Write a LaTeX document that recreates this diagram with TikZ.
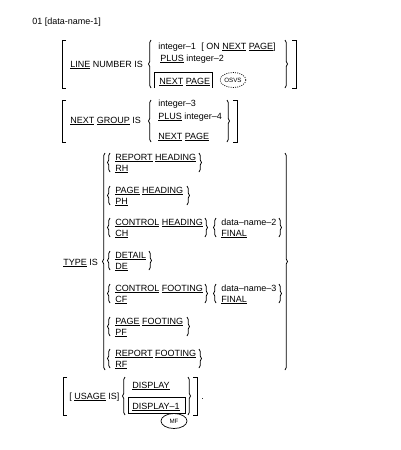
\documentclass[tikz,border=0pt]{standalone}
\usepackage{fontspec}
\setmainfont{Liberation Sans}
\usetikzlibrary{positioning, shapes.geometric, decorations.pathreplacing}
\newcommand{\kw}[1]{\underline{#1}}

\begin{document}
\begin{tikzpicture}[x=1pt, y=-1pt, line width=0.7pt,
		every node/.style={anchor=base west, inner sep=0pt, font=\fontsize{9}{11}\selectfont},
		brc/.style={decorate, decoration={brace, amplitude=2.5pt}},
		tag/.style={ellipse, draw, anchor=center, inner sep=0.5pt, minimum width=22pt, minimum height=15pt, font=\fontsize{6.2}{7}\selectfont}]
			\useasboundingbox (0,0) rectangle (400,450);
			%Level
			\node (lvl) at (32,24) {01 [data-name-1]};
			%Line number
			\draw (66,40) -| (62,88) -- (66,88);
			\node (line) at (70,67) {\kw{LINE} NUMBER IS};
			\draw[brc] (151,88) -- (151,40);
			\node (int1) at (158,49) {integer--1};
			\node (onpage) at (201,49) {[ ON \kw{NEXT} \kw{PAGE}]};
			\node (plus2) at (160,61) {\kw{PLUS} integer--2};
			\draw (154,88) |- (212,72) -- (212,88);
			\node (nxtpg1) at (159,84) {\kw{NEXT} \kw{PAGE}};
			\node[tag, dash pattern=on 1pt off 1.2pt] (osvs) at (233,80) {OSVS};
			\draw[brc] (285,40) -- (285,88);
			\draw (292,40) -| (296,88) -- (292,88);
			%Next group
			\draw (66,100) -| (62,142) -- (66,142);
			\node (group) at (70,123) {\kw{NEXT} \kw{GROUP} IS};
			\draw[brc] (151,142) -- (151,100);
			\node (int3) at (158,106) {integer--3};
			\node (plus4) at (158,119) {\kw{PLUS} integer--4};
			\node (nxtpg2) at (158,139) {\kw{NEXT} \kw{PAGE}};
			\draw[brc] (227,100) -- (227,142);
			\draw (233,100) -| (237,142) -- (233,142);
			%Type
			\node (type) at (63,265) {\kw{TYPE} IS};
			\draw[brc] (105,370) -- (105,153);
			\draw[brc] (285,153) -- (285,370);
			%Report heading
			\draw[brc] (110,172) -- (110,153);
			\node (rh) at (115,160) {\kw{REPORT} \kw{HEADING}};
			\node (rhs) at (115,171) {\kw{RH}};
			\draw[brc] (199,153) -- (199,172);
			%Page heading
			\draw[brc] (110,205) -- (110,186);
			\node (ph) at (115,193) {\kw{PAGE} \kw{HEADING}};
			\node (phs) at (115,204) {\kw{PH}};
			\draw[brc] (187,186) -- (187,205);
			%Control heading
			\draw[brc] (110,237) -- (110,218);
			\node (ch) at (115,225) {\kw{CONTROL} \kw{HEADING}};
			\node (chs) at (115,236) {\kw{CH}};
			\draw[brc] (205,218) -- (205,237);
			\draw[brc] (216,237) -- (216,218);
			\node (dn2) at (221,225) {data--name--2};
			\node (fin2) at (221,236) {\kw{FINAL}};
			\draw[brc] (279,218) -- (279,237);
			%Detail
			\draw[brc] (110,270) -- (110,251);
			\node (de) at (115,258) {\kw{DETAIL}};
			\node (des) at (115,269) {\kw{DE}};
			\draw[brc] (149,251) -- (149,270);
			%Control footing
			\draw[brc] (110,303) -- (110,284);
			\node (cf) at (115,291) {\kw{CONTROL} \kw{FOOTING}};
			\node (cfs) at (115,302) {\kw{CF}};
			\draw[brc] (205,284) -- (205,303);
			\draw[brc] (216,303) -- (216,284);
			\node (dn3) at (221,291) {data--name--3};
			\node (fin3) at (221,302) {\kw{FINAL}};
			\draw[brc] (279,284) -- (279,303);
			%Page footing
			\draw[brc] (110,336) -- (110,317);
			\node (pf) at (115,324) {\kw{PAGE} \kw{FOOTING}};
			\node (pfs) at (115,335) {\kw{PF}};
			\draw[brc] (187,317) -- (187,336);
			%Report footing
			\draw[brc] (110,368) -- (110,349);
			\node (rf) at (115,356) {\kw{REPORT} \kw{FOOTING}};
			\node (rfs) at (115,367) {\kw{RF}};
			\draw[brc] (199,349) -- (199,368);
			%Usage
			\draw (67,377) -| (63,415) -- (67,415);
			\node (usage) at (69,399) {[ \kw{USAGE} IS]};
			\draw[brc] (125,415) -- (125,377);
			\node (disp) at (132,388) {\kw{DISPLAY}};
			\draw (128,397) rectangle (185,413);
			\node (disp1) at (132,409) {\kw{DISPLAY--1}};
			\node[tag, minimum width=26pt] (mf) at (174,421) {MF};
			\draw[brc] (188,377) -- (188,415);
			\draw (193,377) -| (197,415) -- (193,415);
			\node (dot) at (201,399) {.};
		\end{tikzpicture}
\end{document}
